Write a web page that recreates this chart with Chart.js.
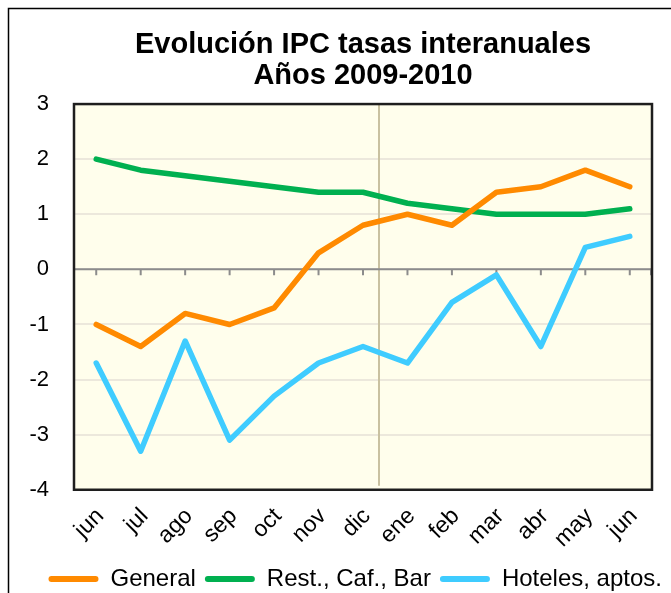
<!DOCTYPE html>
<html>
<head>
<meta charset="utf-8">
<script src="https://cdn.jsdelivr.net/npm/chart.js@4.4.0/dist/chart.umd.min.js"></script>
<style>
  html, body { margin: 0; padding: 0; background: #fff; }
  #wrap { width: 671px; height: 593px; }
</style>
</head>
<body>
<div id="wrap"><canvas id="grafico" width="671" height="593"></canvas></div>
<script>
// datos
const meses = ["jun", "jul", "ago", "sep", "oct", "nov", "dic", "ene", "feb", "mar", "abr", "may", "jun"];
const general = [-1.0, -1.4, -0.8, -1.0, -0.7, 0.3, 0.8, 1.0, 0.8, 1.4, 1.5, 1.8, 1.5];
const restCafBar = [2.0, 1.8, 1.7, 1.6, 1.5, 1.4, 1.4, 1.2, 1.1, 1.0, 1.0, 1.0, 1.1];
const hoteles = [-1.7, -3.3, -1.3, -3.1, -2.3, -1.7, -1.4, -1.7, -0.6, -0.1, -1.4, 0.4, 0.6];
const ticksY = [3, 2, 1, 0, -1, -2, -3, -4];
const cambioAnio = 6.36; // separacion 2009 / 2010 (en indice de categoria)

const fuente = "'Liberation Sans', Arial, sans-serif";

const fondoYMarco = {
  id: "fondoYMarco",
  beforeDraw(chart) {
    const { ctx, chartArea: a } = chart;
    ctx.save();
    ctx.fillStyle = "#fff";
    ctx.fillRect(0, 0, chart.width, chart.height);
    // marco exterior
    ctx.strokeStyle = "#000";
    ctx.lineWidth = 1.5;
    ctx.strokeRect(8.5, 8.5, 800, 800);
    // fondo del area
    ctx.fillStyle = "#FFFEEC";
    ctx.fillRect(a.left, a.top, a.right - a.left, a.bottom - a.top);
    ctx.restore();
  },
  beforeDatasetsDraw(chart) {
    const { ctx, chartArea: a, scales } = chart;
    const x = scales.x, y = scales.y;
    ctx.save();
    // linea separadora de años
    const xs = x.getPixelForValue(cambioAnio);
    ctx.strokeStyle = "#C9C1A0";
    ctx.lineWidth = 2;
    ctx.beginPath();
    ctx.moveTo(xs, a.top);
    ctx.lineTo(xs, a.bottom - 4);
    ctx.stroke();
    // eje en cero con marcas
    const y0 = y.getPixelForValue(0);
    ctx.strokeStyle = "#8C8C8C";
    ctx.lineWidth = 2;
    ctx.beginPath();
    ctx.moveTo(a.left, y0);
    ctx.lineTo(a.right, y0);
    meses.forEach((m, i) => {
      const xp = x.getPixelForValue(i);
      ctx.moveTo(xp, y0);
      ctx.lineTo(xp, y0 + 6);
    });
    ctx.moveTo(a.right - 1, y0);
    ctx.lineTo(a.right - 1, y0 + 6);
    ctx.stroke();
    ctx.restore();
  },
  afterDraw(chart) {
    const { ctx, chartArea: a } = chart;
    ctx.save();
    ctx.strokeStyle = "#1E1E1E";
    ctx.lineWidth = 2.5;
    ctx.strokeRect(a.left, a.top, a.right - a.left, a.bottom - a.top);
    ctx.restore();
  }
};

const serie = (label, data, color) => ({
  label,
  data,
  borderColor: color,
  backgroundColor: color,
  borderWidth: 5.5,
  pointRadius: 0,
  tension: 0,
  borderCapStyle: "round",
  borderJoinStyle: "round"
});

new Chart(document.getElementById("grafico"), {
  type: "line",
  data: {
    labels: meses,
    datasets: [
      serie("General", general, "#FF8A00"),
      serie("Rest., Caf., Bar", restCafBar, "#00B050"),
      serie("Hoteles, aptos.", hoteles, "#3FCCFF")
    ]
  },
  options: {
    responsive: false,
    animation: false,
    layout: { padding: { left: 10, right: 0, top: 6, bottom: -8 } },
    scales: {
      x: {
        offset: true,
        grid: { display: false },
        border: { display: false },
        ticks: {
          color: "#000",
          font: { family: fuente, size: 23 },
          minRotation: 45,
          maxRotation: 45,
          padding: 5,
          labelOffset: 4,
          autoSkip: false
        }
      },
      y: {
        min: -4,
        max: 3,
        afterBuildTicks: (s) => { s.ticks = ticksY.map(v => ({ value: v })); },
        afterFit: (s) => { s.width = 64; },
        grid: { color: "#ECE8DC", lineWidth: 2, drawTicks: false },
        border: { display: false },
        ticks: {
          color: "#000",
          font: { family: fuente, size: 22 },
          padding: 25
        }
      },
      // eje vacio a la derecha, solo reserva margen
      derecha: {
        position: "right",
        grid: { display: false },
        border: { display: false },
        ticks: { display: false },
        afterFit: (s) => { s.width = 19; }
      }
    },
    plugins: {
      title: {
        display: true,
        fullSize: false,
        text: ["Evolución IPC tasas interanuales", "Años 2009-2010"],
        color: "#000",
        font: { family: fuente, size: 29, weight: "bold", lineHeight: 1.07 },
        padding: { top: 23, bottom: 13 }
      },
      legend: {
        position: "bottom",
        align: "end",
        labels: {
          color: "#000",
          font: { family: fuente, size: 24 },
          boxWidth: 50,
          boxHeight: 6,
          padding: 9,
          useBorderRadius: true,
          borderRadius: 3,
          generateLabels(chart) {
            return Chart.defaults.plugins.legend.labels.generateLabels(chart).map(l => ({ ...l, lineWidth: 0 }));
          }
        }
      },
      tooltip: { enabled: false }
    }
  },
  plugins: [fondoYMarco]
});
</script>
</body>
</html>
